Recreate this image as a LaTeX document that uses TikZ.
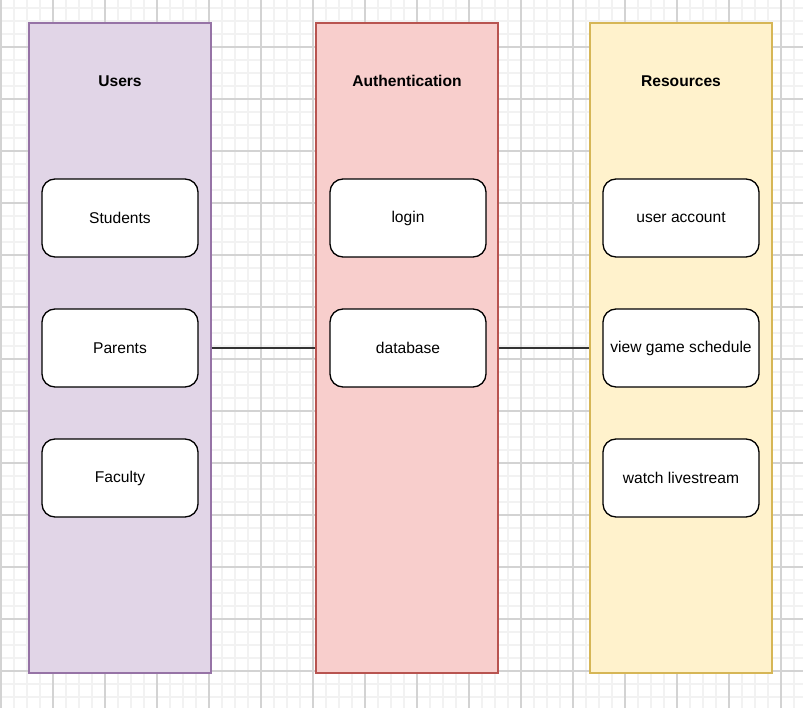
\documentclass[tikz,border=0pt]{standalone}
\usepackage{fontspec}
\setmainfont{Liberation Sans}
\usepackage{tikz}
\definecolor{lanepurple}{HTML}{E1D5E7}
\definecolor{lanepurpleline}{HTML}{9673A6}
\definecolor{lanered}{HTML}{F8CECC}
\definecolor{laneredline}{HTML}{B85450}
\definecolor{laneyellow}{HTML}{FFF2CC}
\definecolor{laneyellowline}{HTML}{D6B656}
\definecolor{gridlight}{HTML}{F2F2F2}
\definecolor{gridmid}{HTML}{D3D3D3}
\tikzstyle{gridminor}=[gridlight,line width=1.6pt]
\tikzstyle{gridmajor}=[gridmid,line width=1.2pt]
\tikzstyle{lanebox}=[draw,line width=1.3pt,minimum width=182pt,minimum height=650pt,inner sep=0pt]
\tikzstyle{lanetitle}=[font=\fontsize{15.6}{18}\selectfont\bfseries]
\tikzstyle{itembox}=[draw=black,fill=white,line width=1.3pt,rounded corners=13pt,minimum width=156pt,minimum height=78pt,inner sep=0pt,font=\fontsize{15.6}{18}\selectfont]
\tikzstyle{lanelink}=[draw=black!80,line width=1.3pt]

\begin{document}
\begin{tikzpicture}[x=1pt,y=-1pt]

\useasboundingbox (0,0) rectangle (803,708);
\fill[white] (0,0) rectangle (803,708);

% background grid
\foreach \gx in {1,14,...,794} \draw[gridminor] (\gx,0) -- (\gx,708);
\foreach \gy in {8,21,...,697} \draw[gridminor] (0,\gy) -- (803,\gy);
\foreach \gx in {1,53,...,781} \draw[gridmajor] (\gx,0) -- (\gx,708);
\foreach \gy in {47,99,...,671} \draw[gridmajor] (0,\gy) -- (803,\gy);

\node[lanebox,fill=lanepurple,draw=lanepurpleline] (UsersLane) at (120,348) {};
\node[lanebox,fill=lanered,draw=laneredline] (AuthLane) at (407,348) {};
\node[lanebox,fill=laneyellow,draw=laneyellowline] (ResLane) at (681,348) {};

\node[lanetitle] (UsersTitle) at (120,81) {Users};
\node[lanetitle] (AuthTitle) at (407,81) {Authentication};
\node[lanetitle] (ResTitle) at (681,81) {Resources};

\node[itembox] (U1) at (120,218) {Students};
\node[itembox] (U2) at (120,348) {Parents};
\node[itembox] (U3) at (120,478) {Faculty};

\node[itembox] (A1) at (408,218) {login};
\node[itembox] (A2) at (408,348) {database};

\node[itembox] (R1) at (681,218) {user account};
\node[itembox] (R2) at (681,348) {view game schedule};
\node[itembox] (R3) at (681,478) {watch livestream};

\draw[lanelink] (UsersLane) -- (AuthLane);
\draw[lanelink] (AuthLane) -- (ResLane);

\end{tikzpicture}
\end{document}
